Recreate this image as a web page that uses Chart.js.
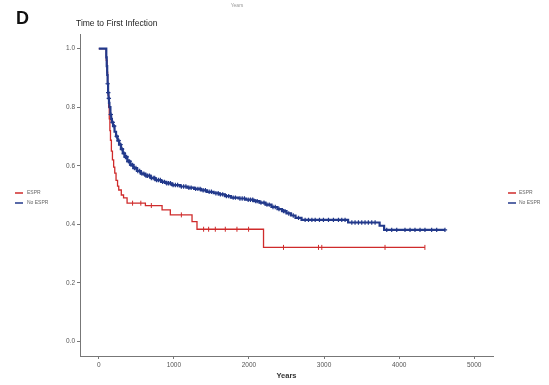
<!DOCTYPE html>
<html>
<head>
<meta charset="utf-8">
<script src="https://cdn.jsdelivr.net/npm/chart.js@4.4.1/dist/chart.umd.min.js"></script>
<style>
  html, body { margin: 0; padding: 0; background: #fff; }
  #wrap { position: relative; width: 549px; height: 385px; }
</style>
</head>
<body>
<div id="wrap"><canvas id="km" width="549" height="385"></canvas></div>
<script>
// Kaplan-Meier steps: time (days) and survival after each step
const esprTimes = [0, 100, 110, 118, 125, 132, 140, 148, 156, 168, 182, 198, 213, 230, 250, 266, 300, 330, 377, 621, 843, 953, 1242, 1308, 2194, 4343];
const esprSurv  = [1.0, 0.96, 0.92, 0.88, 0.84, 0.80, 0.76, 0.72, 0.687, 0.65, 0.62, 0.595, 0.575, 0.55, 0.53, 0.517, 0.50, 0.49, 0.472, 0.464, 0.449, 0.432, 0.409, 0.383, 0.321, 0.321];

const noEsprTimes = [0, 100, 106, 112, 118, 124, 130, 136, 142, 155, 165, 175, 190, 210, 230, 250, 270, 295, 320, 346, 380, 420, 460, 510, 560, 620, 690, 754, 830, 900, 976, 1080, 1180, 1270, 1360, 1440, 1530, 1600, 1680, 1760, 1860, 1960, 2060, 2140, 2220, 2300, 2380, 2440, 2500, 2560, 2620, 2700, 3320, 3740, 3800, 4610];
const noEsprSurv  = [1.0, 0.97, 0.94, 0.91, 0.88, 0.85, 0.83, 0.815, 0.80, 0.775, 0.76, 0.748, 0.735, 0.716, 0.70, 0.686, 0.672, 0.657, 0.642, 0.63, 0.615, 0.603, 0.592, 0.582, 0.573, 0.566, 0.558, 0.551, 0.545, 0.540, 0.534, 0.529, 0.525, 0.521, 0.516, 0.511, 0.506, 0.502, 0.496, 0.491, 0.488, 0.484, 0.479, 0.474, 0.467, 0.459, 0.452, 0.445, 0.437, 0.430, 0.422, 0.415, 0.406, 0.395, 0.381, 0.381];

// Censoring times
const esprCensor = [450, 560, 700, 1100, 1396, 1463, 1552, 1685, 1840, 1995, 2460, 2926, 2970, 3812, 4343];
const noEsprCensor = [118, 126, 134, 160, 185, 205, 240, 265, 290, 310, 335, 355, 370, 395, 410, 430, 450, 475, 495, 520, 545, 575, 600, 630, 650, 675, 700, 725, 745, 770, 795, 820, 850, 875, 905, 930, 955, 990, 1020, 1050, 1100, 1130, 1160, 1200, 1230, 1290, 1320, 1350, 1390, 1420, 1470, 1500, 1560, 1590, 1620, 1650, 1700, 1730, 1790, 1820, 1880, 1910, 1940, 1990, 2020, 2050, 2090, 2110, 2160, 2200, 2240, 2270, 2320, 2350, 2400, 2460, 2480, 2530, 2590, 2660, 2748, 2793, 2838, 2882, 2939, 2992, 3059, 3125, 3192, 3236, 3280, 3370, 3413, 3458, 3502, 3546, 3590, 3635, 3680, 3835, 3901, 3968, 4078, 4145, 4211, 4278, 4344, 4433, 4500, 4610];

const xTicks = [0, 1000, 2000, 3000, 4000, 5000];
const yTicks = [0.0, 0.2, 0.4, 0.6, 0.8, 1.0];
const groupNames = ['ESPR', 'No ESPR'];

const RED = '#cf2b2b';
const BLUE = '#22398b';

const toPoints = (ts, ss) => ts.map((t, i) => ({ x: t, y: ss[i] }));
// survival value in effect at time t on a step curve
function survAt(ts, ss, t) {
  let v = ss[0];
  for (let i = 0; i < ts.length; i++) { if (ts[i] <= t) v = ss[i]; else break; }
  return v;
}
const censorPoints = (cs, ts, ss) => cs.map(t => ({ x: t, y: survAt(ts, ss, t) }));

// Titles, panel letter and the two group keys
const decor = {
  id: 'decor',
  afterDraw(chart) {
    const c = chart.ctx;
    c.save();
    c.fillStyle = '#999';
    c.font = '5px "Liberation Sans", Arial, sans-serif';
    c.textAlign = 'center';
    c.textBaseline = 'middle';
    c.fillText('Years', 237, 6);

    c.fillStyle = '#111';
    c.font = 'bold 18px "Liberation Sans", Arial, sans-serif';
    c.textAlign = 'left';
    c.textBaseline = 'alphabetic';
    c.fillText('D', 16, 24);

    c.fillStyle = '#222';
    c.font = '8.5px "Liberation Sans", Arial, sans-serif';
    c.fillText('Time to First Infection', 76, 26);

    const keys = [[15, 27], [508, 519]];
    const cols = [RED, BLUE];
    const ys = [193, 203];
    c.font = '5px "Liberation Sans", Arial, sans-serif';
    c.textBaseline = 'middle';
    keys.forEach(([lx, tx]) => {
      groupNames.forEach((name, i) => {
        c.strokeStyle = cols[i];
        c.lineWidth = 1.5;
        c.beginPath();
        c.moveTo(lx, ys[i]);
        c.lineTo(lx + 8, ys[i]);
        c.stroke();
        c.fillStyle = '#666';
        c.fillText(name, tx, ys[i]);
      });
    });
    c.restore();
  }
};

new Chart(document.getElementById('km'), {
  type: 'line',
  data: {
    datasets: [
      {
        label: groupNames[0],
        data: toPoints(esprTimes, esprSurv),
        borderColor: RED, borderWidth: 1.3, stepped: true,
        pointRadius: 0, fill: false, order: 2
      },
      {
        label: groupNames[1],
        data: toPoints(noEsprTimes, noEsprSurv),
        borderColor: BLUE, borderWidth: 2.2, stepped: true,
        pointRadius: 0, fill: false, order: 1
      },
      {
        type: 'scatter',
        label: groupNames[0] + ' censored',
        data: censorPoints(esprCensor, esprTimes, esprSurv),
        pointStyle: 'line', rotation: 90, radius: 2.5,
        borderColor: RED, borderWidth: 1, showLine: false, order: 2
      },
      {
        type: 'scatter',
        label: groupNames[1] + ' censored',
        data: censorPoints(noEsprCensor, noEsprTimes, noEsprSurv),
        pointStyle: 'cross', radius: 2.2,
        borderColor: BLUE, borderWidth: 1.2, showLine: false, order: 1
      }
    ]
  },
  options: {
    responsive: false,
    animation: false,
    layout: { padding: { top: 34, right: 56, bottom: 5, left: 0 } },
    plugins: { legend: { display: false }, tooltip: { enabled: false } },
    scales: {
      x: {
        type: 'linear', min: -250, max: 5250,
        afterBuildTicks: s => { s.ticks = xTicks.map(v => ({ value: v })); },
        afterFit: s => { s.height = 24; },
        grid: { drawOnChartArea: false, drawTicks: true, tickLength: 3, color: '#777' },
        border: { display: true, color: '#777', width: 1 },
        ticks: { color: '#555', font: { size: 6.5, family: '"Liberation Sans", Arial' }, padding: 2, maxRotation: 0, callback: v => String(v) },
        title: { display: true, text: 'Years', color: '#333', font: { size: 7.5, weight: 'bold', family: '"Liberation Sans", Arial' }, padding: { top: 0, bottom: 0 } }
      },
      y: {
        type: 'linear', min: -0.05, max: 1.05,
        afterBuildTicks: s => { s.ticks = yTicks.map(v => ({ value: v })); },
        afterFit: s => { s.width = 80; },
        grid: { drawOnChartArea: false, drawTicks: true, tickLength: 3, color: '#777' },
        border: { display: true, color: '#777', width: 1 },
        ticks: { color: '#555', font: { size: 6.5, family: '"Liberation Sans", Arial' }, padding: 2, callback: v => v.toFixed(1) }
      }
    }
  },
  plugins: [decor]
});
</script>
</body>
</html>
